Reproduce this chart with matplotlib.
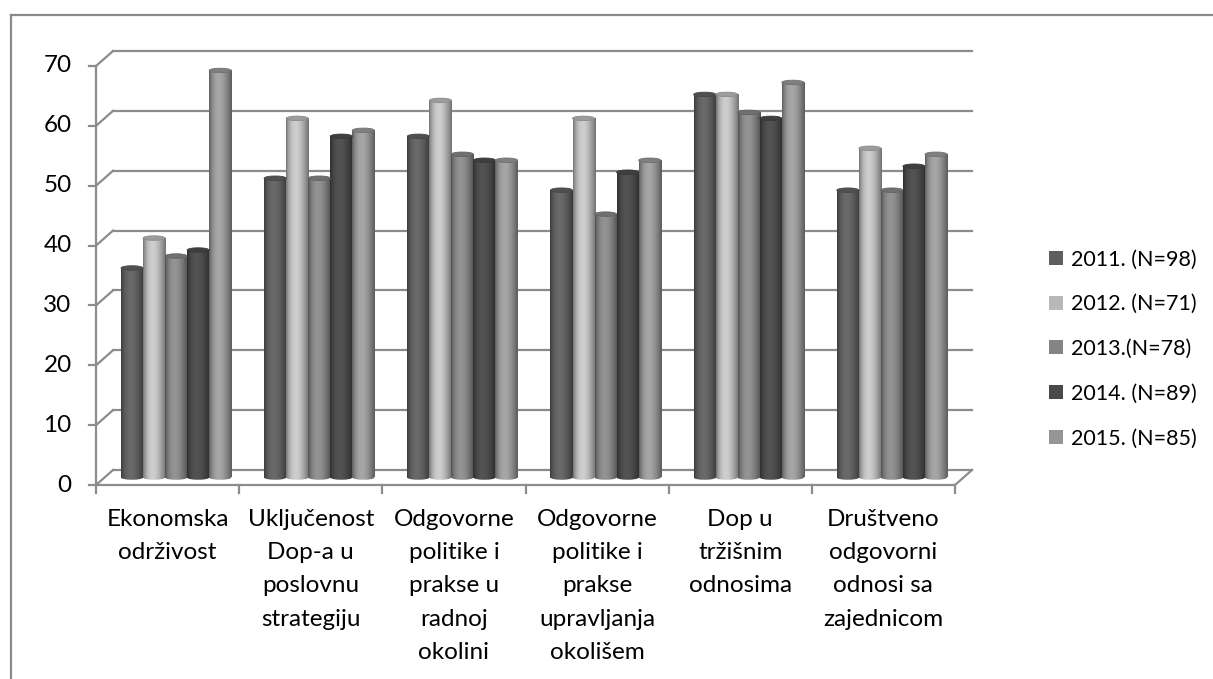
import numpy as np
import matplotlib
matplotlib.use('Agg')
import matplotlib.pyplot as plt
from matplotlib.patches import Ellipse, Patch
from matplotlib.lines import Line2D

plt.rcParams['font.family'] = ['Lato', 'DejaVu Sans']

# Podaci
categories = ['Ekonomska\nodrživost',
              'Uključenost\nDop-a u\nposlovnu\nstrategiju',
              'Odgovorne\npolitike i\nprakse u\nradnoj\nokolini',
              'Odgovorne\npolitike i\nprakse\nupravljanja\nokolišem',
              'Dop u\ntržišnim\nodnosima',
              'Društveno\nodgovorni\nodnosi sa\nzajednicom']
series_labels = ['2011. (N=98)', '2012. (N=71)', '2013.(N=78)', '2014. (N=89)', '2015. (N=85)']
v2011 = [35, 50, 57, 48, 64, 48]
v2012 = [40, 60, 63, 60, 64, 55]
v2013 = [37, 50, 54, 44, 61, 48]
v2014 = [38, 57, 53, 51, 60, 52]
v2015 = [68, 58, 53, 53, 66, 54]
series = [v2011, v2012, v2013, v2014, v2015]
y_ticks = [0, 10, 20, 30, 40, 50, 60, 70]

colors = ['#5e5e5e', '#b8b8b8', '#848484', '#4a4a4a', '#959595']

W, H = 1213, 679
fig = plt.figure(figsize=(W / 100, H / 100), dpi=100)

# okvir grafikona
fig.add_artist(Line2D([11 / W, 11 / W], [0, 1 - 15 / H], color='#8a8a8a', lw=1.6))
fig.add_artist(Line2D([11 / W, 1], [1 - 15 / H, 1 - 15 / H], color='#8a8a8a', lw=1.6))

x0, x1 = 96, 955
y0, y1 = 485, 66
ax = fig.add_axes([x0 / W, 1 - y0 / H, (x1 - x0) / W, (y0 - y1) / H])
ax.axis('off')

n = len(categories)
xmin, xmax = -0.5, n - 0.5
dx = 17 / ((x1 - x0) / n)     # dubina u x jedinicama
dy = 15 / ((y0 - y1) / 70)    # dubina u y jedinicama
grid_c = '#8c8c8c'

# zadnji zid + lijevi zid
for v in y_ticks:
    ax.plot([xmin + dx, xmax + dx], [v + dy, v + dy], color=grid_c, lw=1.6, clip_on=False, zorder=1)
    ax.plot([xmin, xmin + dx], [v, v + dy], color=grid_c, lw=1.6, clip_on=False, zorder=1)
    ax.plot([xmin - 0.05, xmin], [v, v], color=grid_c, lw=1.6, clip_on=False, zorder=1)
    ax.text(xmin - 0.17, v, str(v), ha='right', va='center', fontsize=17.5, color='black')
ax.plot([xmin, xmin], [0, 70], color=grid_c, lw=1.6, clip_on=False, zorder=1)

# pod
ax.plot([xmin, xmax], [0, 0], color=grid_c, lw=1.6, clip_on=False, zorder=1)
ax.plot([xmax, xmax + dx], [0, dy], color=grid_c, lw=1.6, clip_on=False, zorder=1)
for k in range(n + 1):
    ax.plot([xmin + k, xmin + k], [0, -1.3], color=grid_c, lw=1.6, clip_on=False, zorder=1)

# valjci
bw = 0.154
ell_h = 0.75
t = np.linspace(0, 1, 64)
shade = 0.62 + 0.5 * np.sin(np.pi * t ** 0.8)
idx = np.arange(n)
for s, (vals, c) in enumerate(zip(series, colors)):
    rgb = np.array(matplotlib.colors.to_rgb(c))
    grad = np.clip(rgb[None, None, :] * shade[None, :, None], 0, 1)
    xs = idx + dx / 2 + (s - 2) * bw
    bars = ax.bar(xs, vals, width=bw, bottom=dy / 2, color=c, zorder=3 + s * 0.01)
    for b, xc, v in zip(bars, xs, vals):
        im = ax.imshow(grad, extent=(xc - bw / 2, xc + bw / 2, dy / 2 - ell_h, v + dy / 2),
                       aspect='auto', zorder=3.5 + s * 0.01)
        im.set_clip_path(b)
        bot = Ellipse((xc, dy / 2), bw, ell_h, facecolor='none', edgecolor='none')
        ax.add_patch(bot)
        im2 = ax.imshow(grad, extent=(xc - bw / 2, xc + bw / 2, dy / 2 - ell_h, dy / 2 + ell_h),
                        aspect='auto', zorder=3.5 + s * 0.01)
        im2.set_clip_path(bot)
        top = Ellipse((xc, v + dy / 2), bw, ell_h,
                      facecolor=np.clip(rgb * 0.85, 0, 1), edgecolor=np.clip(rgb * 0.75, 0, 1),
                      lw=0.6, zorder=3.6 + s * 0.01)
        ax.add_patch(top)

# oznake kategorija
for k, lab in enumerate(categories):
    ax.text(k, -4.0, lab, ha='center', va='top', fontsize=17.5, linespacing=1.72)

ax.set_xlim(xmin, xmax)
ax.set_ylim(0, 70)

handles = [Patch(facecolor=c, edgecolor='none') for c in colors]
fig.legend(handles, series_labels, loc='center left', bbox_to_anchor=(1030 / W, 1 - 349 / H),
           frameon=False, fontsize=15.5, handlelength=0.62, handleheight=0.62,
           handletextpad=0.4, labelspacing=1.15)

fig.savefig('out.png', dpi=100)
